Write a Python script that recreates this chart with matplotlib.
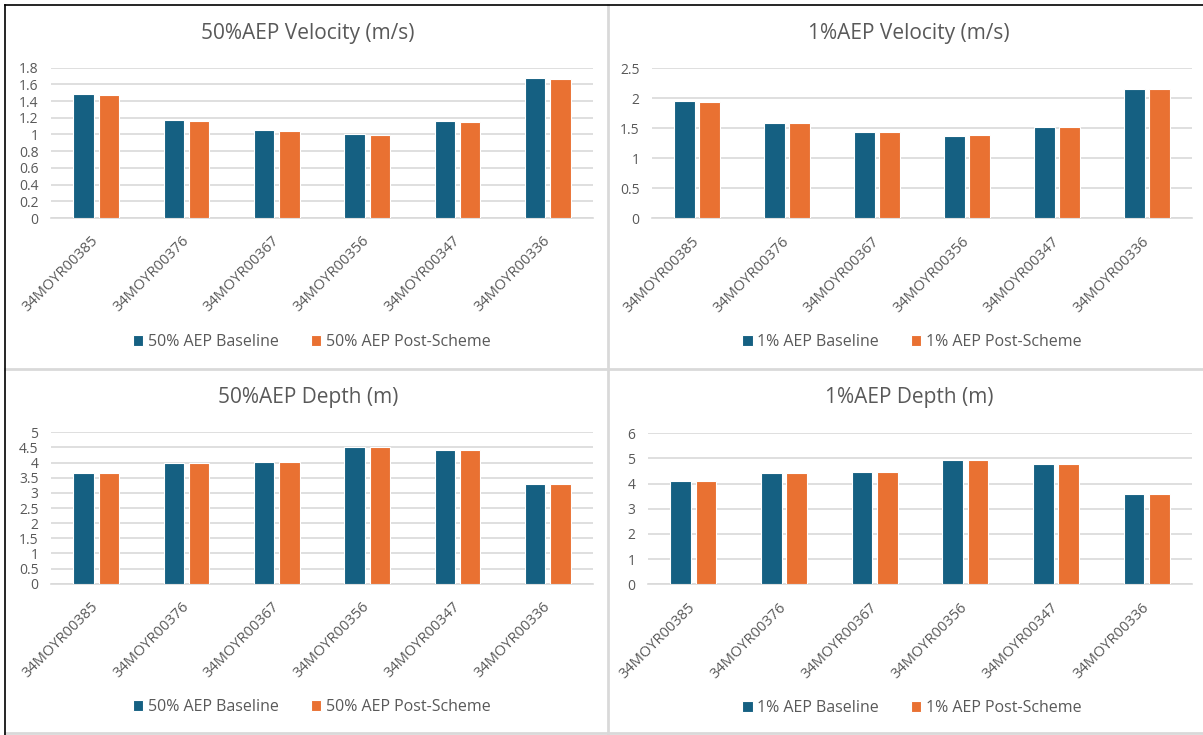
import matplotlib
matplotlib.use("Agg")
import matplotlib.pyplot as plt
from matplotlib.lines import Line2D
from matplotlib.ticker import FuncFormatter, MultipleLocator

plt.rcParams['font.family'] = ['Open Sans', 'DejaVu Sans']

# Cross-section identifiers along the reach
sections = ["34MOYR00385", "34MOYR00376", "34MOYR00367",
            "34MOYR00356", "34MOYR00347", "34MOYR00336"]

# 50% AEP velocity (m/s)
vel50_baseline = [1.48, 1.17, 1.05, 1.00, 1.16, 1.68]
vel50_post = [1.47, 1.16, 1.04, 0.99, 1.15, 1.67]

# 1% AEP velocity (m/s)
vel1_baseline = [1.96, 1.58, 1.43, 1.37, 1.52, 2.15]
vel1_post = [1.94, 1.58, 1.44, 1.39, 1.52, 2.15]

# 50% AEP depth (m)
dep50_baseline = [3.65, 3.97, 4.02, 4.53, 4.42, 3.29]
dep50_post = [3.65, 3.97, 4.02, 4.50, 4.42, 3.29]

# 1% AEP depth (m)
dep1_baseline = [4.09, 4.41, 4.45, 4.94, 4.79, 3.58]
dep1_post = [4.09, 4.41, 4.45, 4.94, 4.79, 3.58]

BLUE = "#156082"
ORANGE = "#E97132"
GRID = "#D9D9D9"
TEXT = "#595959"

W, H = 1203, 735
fig = plt.figure(figsize=(W / 100, H / 100), dpi=100)
fig.patch.set_facecolor("white")


def px_axes(x0, y0, x1, y1):
    """Create axes from pixel box (top-left origin)."""
    return fig.add_axes([x0 / W, 1 - y1 / H, (x1 - x0) / W, (y1 - y0) / H])


panels = [
    dict(box=(51, 67.7, 593, 218.0), title="50%AEP Velocity (m/s)", ymax=1.8, step=0.2,
         data=(vel50_baseline, vel50_post), labels=("50% AEP Baseline", "50% AEP Post-Scheme"),
         title_xy=(308, 33), legend_xy=(312, 342)),
    dict(box=(652, 68.3, 1192, 218.3), title="1%AEP Velocity (m/s)", ymax=2.5, step=0.5,
         data=(vel1_baseline, vel1_post), labels=("1% AEP Baseline", "1% AEP Post-Scheme"),
         title_xy=(909, 33), legend_xy=(912, 342)),
    dict(box=(51, 432.3, 593, 583.7), title="50%AEP Depth (m)", ymax=5, step=0.5,
         data=(dep50_baseline, dep50_post), labels=("50% AEP Baseline", "50% AEP Post-Scheme"),
         title_xy=(308, 398), legend_xy=(312, 707)),
    dict(box=(648, 433.3, 1192, 584.3), title="1%AEP Depth (m)", ymax=6, step=1,
         data=(dep1_baseline, dep1_post), labels=("1% AEP Baseline", "1% AEP Post-Scheme"),
         title_xy=(909, 398), legend_xy=(912, 708)),
]

x = list(range(len(sections)))
bw = 0.225
off = 0.14

for p in panels:
    ax = px_axes(*p["box"])
    base, post = p["data"]
    b1 = ax.bar([i - off for i in x], base, width=bw, color=BLUE,
                edgecolor="white", linewidth=0.8, zorder=3, label=p["labels"][0])
    b2 = ax.bar([i + off for i in x], post, width=bw, color=ORANGE,
                edgecolor="white", linewidth=0.8, zorder=3, label=p["labels"][1])
    ax.set_xlim(-0.5, len(sections) - 0.5)
    ax.set_ylim(0, p["ymax"])
    ax.yaxis.set_major_locator(MultipleLocator(p["step"]))
    ax.yaxis.set_major_formatter(FuncFormatter(lambda v, pos: f"{round(v, 2):g}"))
    ax.grid(axis="y", color=GRID, linewidth=1.2, zorder=0)
    for s in ("top", "right", "left"):
        ax.spines[s].set_visible(False)
    ax.spines["bottom"].set_color(GRID)
    ax.spines["bottom"].set_linewidth(1.2)
    ax.tick_params(axis="both", length=0, colors=TEXT, labelsize=10)
    ax.tick_params(axis="y", pad=9)
    ax.tick_params(axis="x", pad=15)
    ax.set_xticks(x)
    ax.set_xticklabels(sections, rotation=45, ha="right", va="center",
                       rotation_mode="anchor", fontsize=10.5, color=TEXT)
    fig.text(p["title_xy"][0] / W, 1 - p["title_xy"][1] / H, p["title"],
             ha="center", va="center", fontsize=15, color=TEXT)
    fig.legend(handles=[b1, b2], loc="center",
               bbox_to_anchor=(p["legend_xy"][0] / W, 1 - p["legend_xy"][1] / H),
               ncol=2, frameon=False, fontsize=11.5, handlelength=0.65,
               handleheight=0.65, handletextpad=0.3, columnspacing=2.0,
               labelcolor=TEXT)


def fline(xs, ys, color, lw):
    """Draw a straight line in figure pixel coordinates."""
    fig.add_artist(Line2D([v / W for v in xs], [1 - v / H for v in ys],
                          color=color, linewidth=lw, transform=fig.transFigure))


# Panel frame lines
fline((607.5, 607.5), (5, 733), GRID, 2.0)
fline((5, W), (369.3, 369.3), GRID, 2.0)
fline((5, W), (733, 733), GRID, 2.0)
fline((5, W), (5, 5), "black", 1.2)
fline((5, 5), (5, H), "black", 1.2)

fig.savefig("out.png", dpi=100, facecolor="white")
